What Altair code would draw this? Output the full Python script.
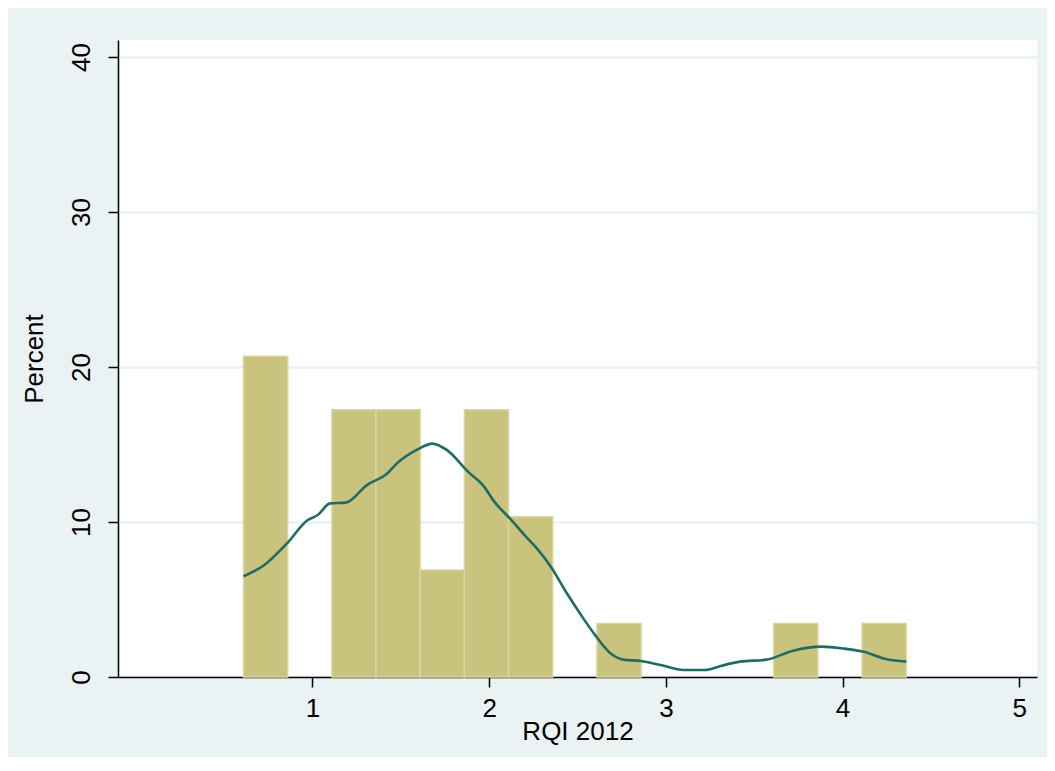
import altair as alt
import pandas as pd

# Histogram bins (RQI 2012), bin width 0.25, percent of 29 observations
bin_start = [0.61, 1.11, 1.36, 1.61, 1.86, 2.11, 2.61, 3.61, 4.11]
bin_end = [0.86, 1.36, 1.61, 1.86, 2.11, 2.36, 2.86, 3.86, 4.36]
percent = [20.69, 17.24, 17.24, 6.90, 17.24, 10.34, 3.45, 3.45, 3.45]

# Kernel density curve (scaled to percent)
kd_x = [0.61, 0.72, 0.86, 0.97, 1.03, 1.10, 1.19, 1.31, 1.42, 1.48, 1.59, 1.68,
        1.76, 1.88, 1.97, 2.03, 2.12, 2.20, 2.27, 2.35, 2.44, 2.52, 2.60, 2.69,
        2.76, 2.86, 2.97, 3.10, 3.22, 3.31, 3.42, 3.57, 3.72, 3.88, 4.01, 4.12,
        4.25, 4.36]
kd_y = [6.5, 7.16, 8.67, 10.1, 10.45, 11.2, 11.25, 12.4, 13.1, 13.8, 14.65, 15.06,
        14.65, 13.25, 12.3, 11.3, 10.2, 9.16, 8.3, 7.1, 5.4, 4.0, 2.7, 1.5,
        1.12, 1.03, 0.77, 0.45, 0.45, 0.71, 0.99, 1.12, 1.7, 1.96, 1.83, 1.63,
        1.14, 0.99]

x_ticks = [1, 2, 3, 4, 5]
y_ticks = [0, 10, 20, 30, 40]

bars_df = pd.DataFrame({"start": bin_start, "end": bin_end, "pct": percent})
kd_df = pd.DataFrame({"x": kd_x, "y": kd_y})

FONT = "Liberation Sans"
BG = "#EAF2F3"

x_scale = alt.Scale(domain=[-0.1, 5.1], nice=False, zero=False)
y_scale = alt.Scale(domain=[0, 41.1], nice=False)

x_axis = alt.Axis(values=x_ticks, title="RQI 2012", grid=False, tickSize=10,
                  labelFontSize=26, titleFontSize=26, labelPadding=8,
                  titlePadding=-3, domainColor="#000000", tickColor="#000000",
                  domainWidth=1.5, tickWidth=1.5, labelColor="#000000",
                  titleColor="#000000", labelFont=FONT, titleFont=FONT,
                  titleFontWeight="normal", format="d")
y_axis = alt.Axis(values=y_ticks, title="Percent", grid=True, gridColor=BG,
                  gridWidth=2.5, tickSize=10, labelFontSize=26, titleFontSize=26,
                  labelAngle=270, labelAlign="center", labelBaseline="bottom",
                  labelPadding=14, titlePadding=21, domainColor="#000000",
                  tickColor="#000000", domainWidth=1.5, tickWidth=1.5,
                  labelColor="#000000", titleColor="#000000", labelFont=FONT,
                  titleFont=FONT, titleFontWeight="normal", format="d")

bars = alt.Chart(bars_df).mark_rect(
    fill="#C9C37E", stroke="#DAD6A0", strokeWidth=1.5
).encode(
    x=alt.X("start:Q", scale=x_scale, axis=x_axis),
    x2="end:Q",
    y=alt.Y("pct:Q", scale=y_scale, axis=y_axis),
    y2=alt.datum(0),
)

line = alt.Chart(kd_df).mark_line(
    color="#1F6C64", strokeWidth=2.6, interpolate="monotone"
).encode(
    x=alt.X("x:Q", scale=x_scale),
    y=alt.Y("y:Q", scale=y_scale),
)

chart = alt.layer(bars, line).properties(
    width=919, height=637,
    background=BG,
    padding={"left": 110, "top": 32, "right": 10, "bottom": 80},
    autosize=alt.AutoSizeParams(type="none"),
).configure_view(
    fill="#FFFFFF", stroke=None
)

chart.save("out.html", embed_options={"renderer": "svg", "actions": False})
